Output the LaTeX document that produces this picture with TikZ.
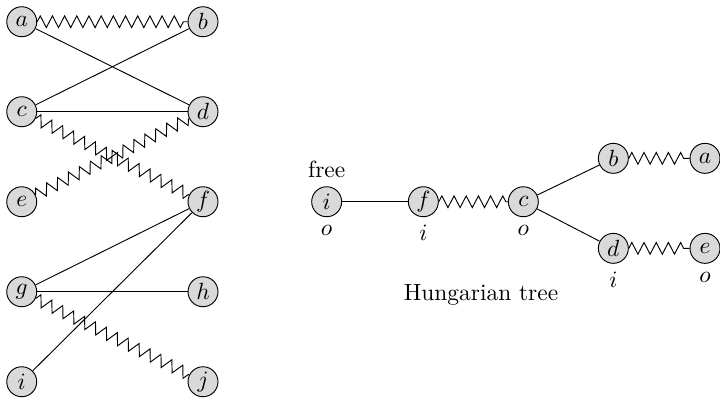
\documentclass[tikz,border=0pt]{standalone}
\usetikzlibrary{positioning, calc, decorations.pathmorphing}
\tikzset{
  vertex/.style = {draw, circle, fill=black!15, minimum size=12.8pt,
                   inner sep=0pt},
  zig/.style    = {decorate, decoration={zigzag, segment length=5.2pt,
                   amplitude=2.5pt}},
  lbl/.style    = {inner sep=3.3pt},
  node distance = 0pt
}
\begin{document}
\begin{tikzpicture}
  \useasboundingbox (0,0) rectangle (10.8,-6.03);

  % ── Bipartite graph ───────────────────────────────────────────────────────
  \node[vertex] (a) at (0.326,-0.326) {$a$};
  \node[vertex] (b) at (3.045,-0.326) {$b$};
  \node[vertex] (c) at (0.326,-1.676) {$c$};
  \node[vertex] (d) at (3.045,-1.676) {$d$};
  \node[vertex] (e) at (0.326,-3.026) {$e$};
  \node[vertex] (f) at (3.045,-3.026) {$f$};
  \node[vertex] (g) at (0.326,-4.376) {$g$};
  \node[vertex] (h) at (3.045,-4.376) {$h$};
  \node[vertex] (i) at (0.326,-5.726) {$i$};
  \node[vertex] (j) at (3.045,-5.726) {$j$};

  % matched edges
  \draw[zig] (a) -- (b);
  \draw[zig] (c) -- (f);
  \draw[zig] (e) -- (d);
  \draw[zig] (g) -- (j);

  % free edges
  \draw (a) -- (d);
  \draw (c) -- (b);
  \draw (c) -- (d);
  \draw (g) -- (f);
  \draw (g) -- (h);
  \draw (i) -- (f);

  % ── Hungarian tree ────────────────────────────────────────────────────────
  \node[vertex] (ti) at (4.90,-3.026)  {$i$};
  \node[vertex] (tf) at (6.35,-3.026)  {$f$};
  \node[vertex] (tc) at (7.85,-3.026)  {$c$};
  \node[vertex] (tb) at (9.20,-2.375)  {$b$};
  \node[vertex] (ta) at (10.575,-2.375) {$a$};
  \node[vertex] (td) at (9.20,-3.725)  {$d$};
  \node[vertex] (te) at (10.575,-3.725) {$e$};

  \draw      (ti) -- (tf);
  \draw[zig] (tf) -- (tc);
  \draw      (tc) -- (tb);
  \draw[zig] (tb) -- (ta);
  \draw      (tc) -- (td);
  \draw[zig] (td) -- (te);

  % inner / outer marks
  \node[lbl, above=of ti] {free};
  \node[lbl, below=of ti] {$o$};
  \node[lbl, below=of tf] {$i$};
  \node[lbl, below=of tc] {$o$};
  \node[lbl, below=of td] {$i$};
  \node[lbl, below=of te] {$o$};

  \node (cap) at (7.215,-4.43) {Hungarian tree};

\end{tikzpicture}
\end{document}
